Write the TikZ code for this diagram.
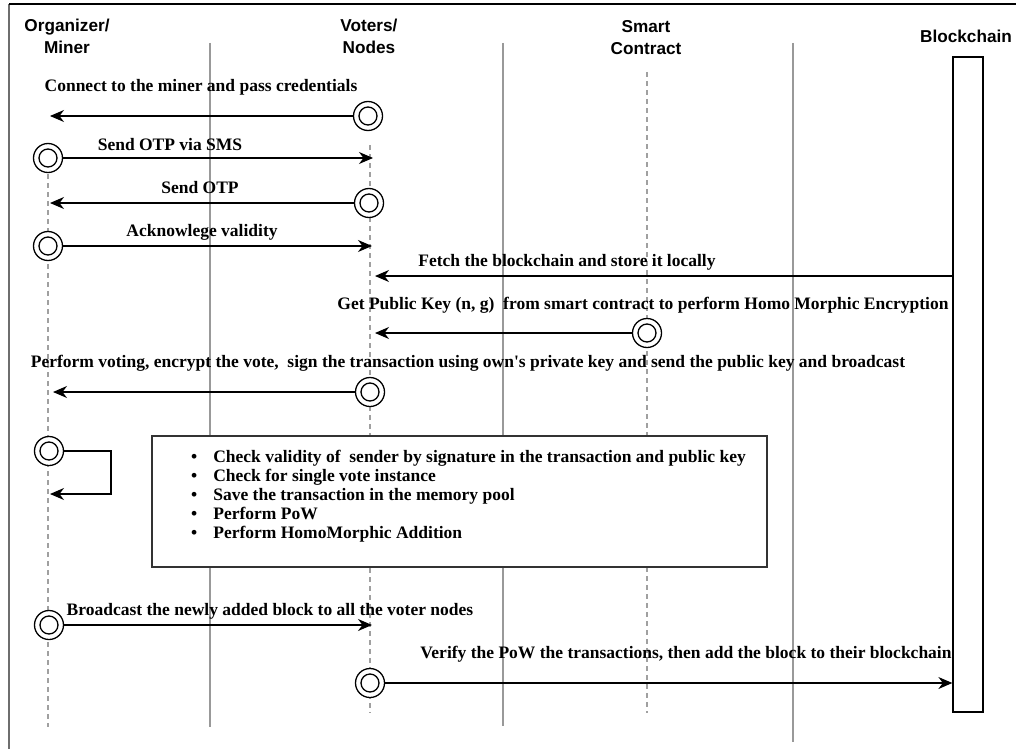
\documentclass[tikz,border=0pt]{standalone}
\usepackage{fontspec}
\setmainfont{Liberation Serif}
\setsansfont{Liberation Sans}
\usetikzlibrary{arrows.meta}

\definecolor{sepgray}{HTML}{999999}
\definecolor{lifegray}{HTML}{A0A0A0}
\definecolor{framegray}{HTML}{6E6E6E}
\definecolor{boxgray}{HTML}{333333}

\begin{document}
\begin{tikzpicture}[x=1pt,y=-1pt,
  lane/.style={draw=sepgray, line width=1.4pt},
  lifeline/.style={draw=lifegray, line width=1.1pt, dash pattern=on 5pt off 4pt},
  actor/.style={circle, draw, line width=1.3pt, minimum size=29pt, inner sep=0pt, fill=white,
    path picture={\draw[line width=1.3pt] (path picture bounding box.center) circle (9pt);}},
  msg/.style={draw, line width=1.3pt, -{Stealth[length=14pt,width=12pt,inset=4.5pt]}},
  lbl/.style={inner sep=0pt, font=\fontsize{17.5}{19}\selectfont\bfseries},
  hdr/.style={inner sep=0pt, align=center, font=\sffamily\bfseries\fontsize{17.2}{22}\selectfont}]

\useasboundingbox (0,0) rectangle (1016,749);

% frame
\draw[framegray, line width=1.4pt] (9,4) -- (9,749);
\draw[black, line width=1.4pt] (9,4) -- (1016,4);

% lane separators
\draw[lane] (210,43) -- (210,727);
\draw[lane] (503,43) -- (503,726);
\draw[lane] (793,43) -- (793,742);

% lifelines
\draw[lifeline] (48,165) -- (48,727);
\draw[lifeline] (370,145) -- (370,713);
\draw[lifeline] (647,72) -- (647,713);

% headers
\node[hdr] (horg) at (67,36) {Organizer/\\Miner};
\node[hdr] (hvot) at (369,36) {Voters/\\Nodes};
\node[hdr] (hsc) at (646,38) {Smart\\Contract};
\node[hdr] (hbc) at (966,36) {Blockchain};

% blockchain activation bar
\node[draw, line width=1.3pt, fill=white, minimum width=30pt, minimum height=655pt, inner sep=0pt]
  (bc) at (968,384.5) {};

% message end points on lifelines
\coordinate (o1) at (50,116);
\coordinate (v2) at (373,158);
\coordinate (o3) at (50,203);
\coordinate (v4) at (372,246);
\coordinate (v5) at (375,276);
\coordinate (v6) at (375,333);
\coordinate (o7) at (53,392);
\coordinate (l1) at (111,451);
\coordinate (l2) at (111,494);
\coordinate (o8) at (50,494);
\coordinate (v9) at (372,625);

% actors
\node[actor] (c1) at (368,116) {};
\node[actor] (c2) at (48,158) {};
\node[actor] (c3) at (369,203) {};
\node[actor] (c4) at (48,246) {};
\node[actor] (c5) at (647,333) {};
\node[actor] (c6) at (370,392) {};
\node[actor] (c7) at (49,451) {};
\node[actor] (c8) at (49,625) {};
\node[actor] (c9) at (370,683) {};

% messages
\draw[msg] (c1) -- (o1);
\draw[msg] (c2) -- (v2);
\draw[msg] (c3) -- (o3);
\draw[msg] (c4) -- (v4);
\draw[msg] (v5 -| bc.west) -- (v5);
\draw[msg] (c5) -- (v6);
\draw[msg] (c6) -- (o7);
\draw[msg] (c7) -- (l1) -- (l2) -- (o8);
\draw[msg] (c8) -- (v9);
\draw[msg] (c9) -- (c9 -| bc.west);

% message labels
\node[lbl] (t1) at (201,87) {Connect to the miner and pass credentials};
\node[lbl] (t2) at (170,145) {Send OTP via SMS};
\node[lbl] (t3) at (200,188) {Send OTP};
\node[lbl] (t4) at (202,232) {Acknowlege validity};
\node[lbl] (t5) at (567,262) {Fetch the blockchain and store it locally};
\node[lbl] (t6) at (643,305) {Get Public Key (n, g) \ from smart contract to perform Homo Morphic Encryption};
\node[lbl] (t7) at (468,363) {Perform voting, encrypt the vote, \ sign the transaction using own\textquotesingle s private key and send the public key and broadcast};
\node[lbl] (t8) at (270,611) {Broadcast the newly added block to all the voter nodes};
\node[lbl] (t9) at (686,654) {Verify the PoW the transactions, then add the block to their blockchain};

% miner's processing steps
\node[draw=boxgray, line width=1.3pt, fill=white, minimum width=615pt, minimum height=131pt, inner sep=0pt]
  (steps) at (459.5,501.5) {};
\node[lbl, anchor=north west] (stepstext) at (191,448.7) {%
  \begin{tabular}{@{}l@{\hspace{16pt}}l@{}}
  \textbullet & Check validity of \ sender by signature in the transaction and public key\\
  \textbullet & Check for single vote instance\\
  \textbullet & Save the transaction in the memory pool\\
  \textbullet & Perform PoW\\
  \textbullet & Perform HomoMorphic Addition
  \end{tabular}};

\end{tikzpicture}
\end{document}
